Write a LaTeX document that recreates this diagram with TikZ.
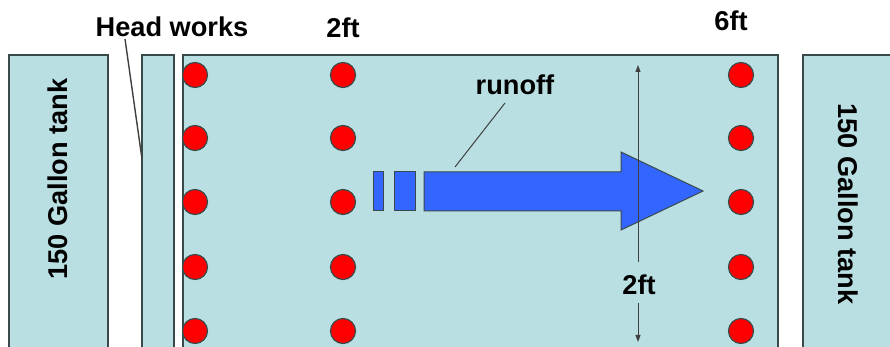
\documentclass[tikz,border=0pt]{standalone}
\usepackage{fontspec}
\setmainfont{Liberation Sans}
\usetikzlibrary{arrows.meta}
\definecolor{plotfill}{HTML}{B9DFE2}
\definecolor{runblue}{HTML}{3366FF}
\definecolor{edgegray}{HTML}{3A4A4A}
\tikzset{
  bed/.style={draw=edgegray, line width=0.55pt, fill=plotfill},
  dot/.style={circle, draw=edgegray, line width=0.6pt, fill=red, minimum size=12.5pt, inner sep=0pt},
  lbl/.style={font=\fontsize{13.6pt}{15pt}\selectfont\bfseries, inner sep=0pt},
  flow/.style={draw=edgegray, line width=0.5pt, fill=runblue},
  leader/.style={draw=black!75, line width=0.5pt}
}
\begin{document}
\begin{tikzpicture}[x=0.5pt,y=-0.5pt]
\useasboundingbox (0,0) rectangle (890,347);
\clip (0,0) rectangle (890,347);
% tanks, strip and plot
\path[bed] (9,55) rectangle (108,360);
\path[bed] (142,55) rectangle (174,360);
\path[bed] (183,55) rectangle (778,360);
\path[bed] (803,55) rectangle (900,360);
% tank labels
\node[lbl, rotate=90] (tankL) at (58,179) {150 Gallon tank};
\node[lbl, rotate=-90] (tankR) at (848,204) {150 Gallon tank};
% top labels
\node[lbl] (hw) at (172,27) {Head works};
\node[lbl] (ftA) at (343,28) {2ft};
\node[lbl] (ftB) at (731,21) {6ft};
% dots
\foreach \cx/\nm in {195/a,343/b,741/c}{
  \foreach \cy [count=\i] in {75,138,202,267,331}{
    \node[dot] (d\nm\i) at (\cx,\cy) {};
  }
}
% runoff arrow
\path[flow] (373,172) rectangle (383,211);
\path[flow] (394,172) rectangle (415,211);
\path[flow] (424,172) -- (621,172) -- (621,152) -- (703,191) -- (621,230) -- (621,211) -- (424,211) -- cycle;
\coordinate (shaft) at (455,167);
\node[lbl] (runoff) at (515,85) {runoff};
\coordinate (runoffroot) at (505,103);
\draw[leader] (runoffroot) -- (shaft);
% head works leader
\coordinate (hwroot) at (125,39);
\coordinate (hwtip) at (142,159);
\draw[leader, line width=0.7pt] (hwroot) -- (hwtip);
% 2ft dimension
\node[lbl] (dimlbl) at (639,285) {2ft};
\coordinate (dimtop) at (638,65);
\coordinate (dimbot) at (638,342);
\coordinate (dimgapT) at (638,262);
\coordinate (dimgapB) at (638,303);
\draw[leader, -{Triangle[length=3.5pt,width=2.5pt]}] (dimgapT) -- (dimtop);
\draw[leader, -{Triangle[length=3.5pt,width=2.5pt]}] (dimgapB) -- (dimbot);
\end{tikzpicture}
\end{document}
